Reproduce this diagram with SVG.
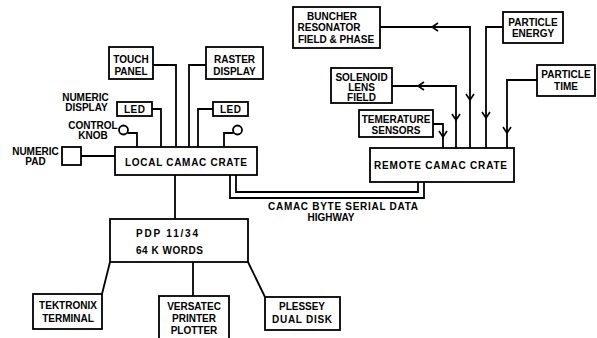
<svg xmlns="http://www.w3.org/2000/svg" width="597" height="338" viewBox="0 0 597 338">
<style>
.box{fill:#fff;stroke:#000;stroke-width:1.8}
.ln{fill:none;stroke:#000;stroke-width:1.8;stroke-linejoin:miter}
.ar{fill:none;stroke:#000;stroke-width:1.6}
text{font-family:"Liberation Sans",Arial,sans-serif;font-weight:bold;font-size:10px;fill:#000;text-anchor:middle}
.st{text-anchor:start}
</style>
<rect width="597" height="338" fill="#fff"/>
<g id="connectors">
<path class="ln" d="M153,65 H176 V147"/>
<path class="ln" d="M206,65 H189 V147"/>
<path class="ln" d="M152,109 H161 V147"/>
<path class="ln" d="M213,109 H198 V147"/>
<path class="ln" d="M127.5,133 H137 V147"/>
<path class="ln" d="M233.5,133 H224 V147"/>
<path class="ln" d="M81,156 H115"/>
<path class="ln" d="M236,175 V192 H418 V182"/>
<path class="ln" d="M230,175 V198 H424 V182"/>
<path class="ln" d="M175,175 V219"/>
<path class="ln" d="M110,262 L102,294"/>
<path class="ln" d="M193,262 V296"/>
<path class="ln" d="M248,262 L265,297"/>
<path class="ln" d="M380,27 H470 V148"/>
<path class="ln" d="M392,86 H456 V148"/>
<path class="ln" d="M503,27 H486 V148"/>
<path class="ln" d="M537,80 H507 V148"/>
<path class="ln" d="M433,124 H443 V148"/>
<path class="ar" d="M438,23 L432,27 L438,31"/>
<path class="ar" d="M466,94 L470,100 L474,94"/>
<path class="ar" d="M424,82 L418,86 L424,90"/>
<path class="ar" d="M452,114 L456,120 L460,114"/>
<path class="ar" d="M482,112 L486,118 L490,112"/>
<path class="ar" d="M503,127 L507,133 L511,127"/>
<path class="ar" d="M439,131 L443,137 L447,131"/>
</g>
<g id="local-crate"><rect class="box" x="115" y="147" width="142" height="28"/><text x="186" y="166" textLength="122" lengthAdjust="spacing">LOCAL CAMAC CRATE</text></g>
<g id="remote-crate"><rect class="box" x="370" y="148" width="144" height="34"/><text x="440.5" y="169" textLength="133" lengthAdjust="spacing">REMOTE CAMAC CRATE</text></g>
<g id="touch-panel"><rect class="box" x="109" y="47" width="44" height="32"/><text x="131" y="63">TOUCH</text><text x="131" y="75">PANEL</text></g>
<g id="raster-display"><rect class="box" x="206" y="47" width="57" height="32"/><text x="234.5" y="63">RASTER</text><text x="234.5" y="75">DISPLAY</text></g>
<g id="led-left"><rect class="box" x="117" y="102" width="35" height="14"/><text x="134.5" y="113" textLength="21" lengthAdjust="spacing">LED</text></g>
<g id="led-right"><rect class="box" x="213" y="102" width="35" height="14"/><text x="230.5" y="113" textLength="21" lengthAdjust="spacing">LED</text></g>
<g id="numeric-display-label"><text x="85.5" y="101" font-size="9.5">NUMERIC</text><text x="86.5" y="111" font-size="9.5">DISPLAY</text></g>
<g id="knob-left"><circle class="box" cx="123.5" cy="130" r="4.5"/><text x="93" y="129" font-size="9.5">CONTROL</text><text x="93" y="139" font-size="9.5">KNOB</text></g>
<g id="knob-right"><circle class="box" cx="237.5" cy="130" r="4.5"/></g>
<g id="numeric-pad"><rect class="box" x="62" y="147" width="19" height="18"/><text x="35.5" y="155" font-size="9.5">NUMERIC</text><text x="35.5" y="165" font-size="9.5">PAD</text></g>
<g id="pdp"><rect class="box" x="110" y="219" width="138" height="43"/><text class="st" x="136" y="237" textLength="62" lengthAdjust="spacing">PDP 11/34</text><text class="st" x="136" y="254" textLength="67" lengthAdjust="spacing">64 K WORDS</text></g>
<g id="tektronix"><rect class="box" x="33" y="294" width="69" height="35"/><text x="68" y="309">TEKTRONIX</text><text x="68" y="322">TERMINAL</text></g>
<g id="versatec"><rect class="box" x="159" y="296" width="70" height="50"/><text x="194" y="310">VERSATEC</text><text x="194" y="322">PRINTER</text><text x="194" y="334">PLOTTER</text></g>
<g id="plessey"><rect class="box" x="265" y="297" width="75" height="33"/><text x="302" y="310" textLength="46" lengthAdjust="spacing">PLESSEY</text><text x="302" y="323" textLength="60" lengthAdjust="spacing">DUAL DISK</text></g>
<g id="highway-label"><text x="343" y="210" textLength="150" lengthAdjust="spacing">CAMAC BYTE SERIAL DATA</text><text x="331" y="221">HIGHWAY</text></g>
<g id="buncher"><rect class="box" x="293" y="7" width="87" height="41"/><text x="332" y="19.5">BUNCHER</text><text x="329" y="31">RESONATOR</text><text x="336" y="43">FIELD &amp; PHASE</text></g>
<g id="particle-energy"><rect class="box" x="503" y="12" width="60" height="31"/><text x="533" y="26">PARTICLE</text><text x="533" y="37">ENERGY</text></g>
<g id="solenoid"><rect class="box" x="331" y="68" width="61" height="35"/><text x="361.5" y="80.5">SOLENOID</text><text x="361.5" y="90.5">LENS</text><text x="361.5" y="100.5">FIELD</text></g>
<g id="particle-time"><rect class="box" x="537" y="65" width="58" height="31"/><text x="566" y="78">PARTICLE</text><text x="566" y="90">TIME</text></g>
<g id="temperature"><rect class="box" x="359" y="110" width="74" height="27"/><text x="396" y="122.5">TEMERATURE</text><text x="396" y="133.5">SENSORS</text></g>
</svg>
